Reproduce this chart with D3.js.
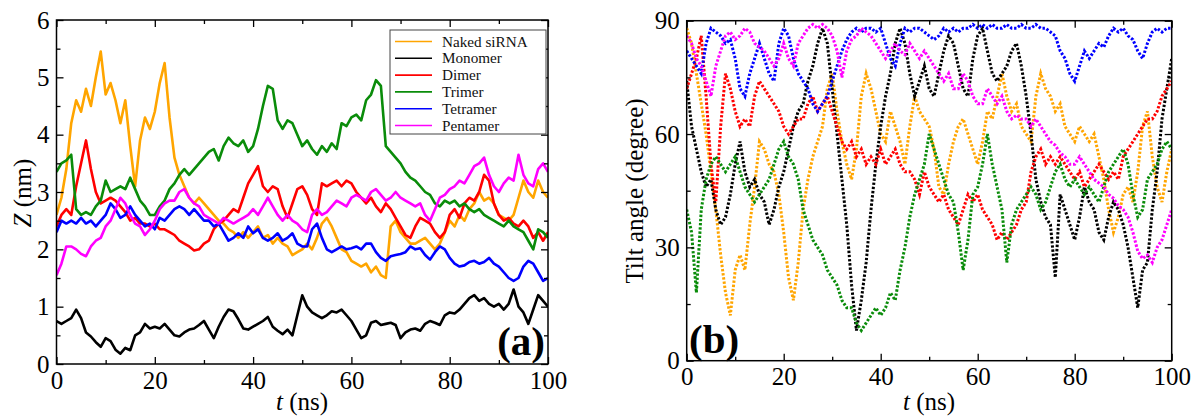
<!DOCTYPE html>
<html>
<head>
<meta charset="utf-8">
<script src="https://cdn.jsdelivr.net/npm/d3@7/dist/d3.min.js"></script>
<style>
    body { margin: 0; background: #fff; }
    svg { display: block; }
    .tick text { font-family: 'Liberation Serif', serif; font-size: 25px; fill: #000; }
    .tick line { stroke: #000; stroke-width: 1.3; }
    .axis-label { font-family: 'Liberation Serif', serif; font-size: 25px; fill: #000; }
    .legend text { font-family: 'Liberation Serif', serif; font-size: 15.2px; fill: #111; }
    .panel-tag { font-family: 'Liberation Serif', serif; font-size: 41px; font-weight: bold; fill: #000; }
</style>
</head>
<body>
<svg id="chart" width="1195" height="416"></svg>
<script>
'use strict';

// time axis, one reading per ns
const timeNs = d3.range(0, 101);

const seriesNames = ['Naked siRNA', 'Monomer', 'Dimer', 'Trimer', 'Tetramer', 'Pentamer'];
const seriesColors = ['#ffa500', '#000000', '#ff0000', '#0a8c0a', '#0000ff', '#ff00ff'];

// panel (a): Z (nm)
const zNaked = [
    2.6, 2.9, 3.4, 4.2, 4.6, 4.4, 4.8, 4.5, 5.0, 5.45,
    4.7, 4.9, 4.6, 4.2, 4.6, 3.8, 3.1, 3.9, 4.3, 4.1,
    4.4, 4.9, 5.25, 4.3, 3.6, 3.3, 3.1, 2.9, 2.8, 2.9,
    2.8, 2.7, 2.6, 2.5, 2.45, 2.35, 2.3, 2.2, 2.3, 2.2,
    2.3, 2.4, 2.2, 2.25, 2.1, 2.2, 2.1, 2.05, 1.9, 1.95,
    2.0, 2.1, 2.0, 2.2, 2.45, 2.55, 2.4, 2.2, 2.0, 1.95,
    1.8, 1.75, 1.7, 1.75, 1.6, 1.7, 1.55, 1.5, 2.4, 2.5,
    2.3, 2.2, 2.1, 2.1, 2.15, 2.2, 2.1, 2.0, 2.1, 2.3,
    2.5, 2.4, 2.6, 2.5, 2.7, 2.8, 3.0, 2.85, 2.9, 2.8,
    2.6, 2.55, 2.5, 2.6, 2.9, 3.2, 3.0, 2.9, 3.2, 3.0,
    2.9
];
const zMonomer = [
    0.75, 0.7, 0.75, 0.8, 0.95, 0.8, 0.55, 0.48, 0.38, 0.3,
    0.45, 0.4, 0.25, 0.18, 0.28, 0.24, 0.5, 0.55, 0.7, 0.62,
    0.65, 0.62, 0.7, 0.6, 0.5, 0.48, 0.55, 0.6, 0.62, 0.68,
    0.75, 0.6, 0.45, 0.65, 0.82, 0.95, 0.92, 0.78, 0.62, 0.6,
    0.65, 0.7, 0.75, 0.82, 0.65, 0.58, 0.52, 0.6, 0.5, 0.85,
    1.2, 1.0, 0.9, 0.85, 0.8, 0.85, 0.92, 0.9, 0.95, 0.85,
    0.75, 0.6, 0.45, 0.5, 0.72, 0.75, 0.68, 0.7, 0.72, 0.68,
    0.45, 0.55, 0.6, 0.62, 0.58, 0.7, 0.75, 0.72, 0.68, 0.85,
    0.9, 0.88, 0.95, 1.05, 1.15, 1.2, 1.1, 1.15, 1.05, 1.0,
    1.05, 0.95, 1.05, 1.3, 1.0, 0.9, 0.7, 0.95, 1.2, 1.1,
    1.0
];
const zDimer = [
    2.4, 2.6, 2.7, 2.6, 3.1, 3.5, 3.9, 3.4, 3.0, 2.8,
    2.85, 2.9, 2.85, 2.75, 2.65, 2.5, 2.55, 2.45, 2.45, 2.4,
    2.45, 2.35, 2.35, 2.3, 2.25, 2.15, 2.1, 2.05, 1.98, 2.0,
    2.1, 2.15, 2.35, 2.45, 2.5, 2.6, 2.7, 2.65, 2.9, 3.15,
    3.3, 3.45, 3.1, 3.0, 3.1, 3.05, 2.75, 2.55, 2.8, 3.05,
    3.1, 2.95, 2.7, 2.6, 3.15, 3.1, 3.15, 3.2, 3.1, 3.2,
    3.15, 3.0, 2.9, 2.8, 2.9, 2.75, 2.65, 2.8, 2.7, 2.55,
    2.4, 2.25, 2.2, 2.4, 2.55, 2.5, 2.45, 2.3, 2.2, 2.3,
    2.6, 2.7, 2.55, 2.8, 2.9, 2.85, 3.0, 3.3, 3.2, 2.8,
    2.6, 2.5, 2.55, 2.45, 2.4, 2.5, 2.4, 2.2, 2.3, 2.15,
    2.3
];
const zTrimer = [
    3.35, 3.5, 3.55, 3.65, 2.7, 2.6, 2.65, 2.6, 2.75, 2.85,
    3.2, 3.0, 3.05, 3.1, 3.05, 3.25, 3.05, 2.85, 2.75, 2.6,
    2.6, 2.75, 2.85, 3.05, 3.15, 3.3, 3.4, 3.3, 3.4, 3.5,
    3.6, 3.7, 3.75, 3.55, 3.8, 3.95, 3.85, 3.8, 3.9, 3.7,
    3.8, 4.1, 4.5, 4.85, 4.8, 4.25, 4.1, 4.25, 4.2, 4.0,
    3.8, 3.9, 3.75, 3.65, 3.8, 3.7, 3.85, 3.75, 4.2, 4.15,
    4.3, 4.35, 4.25, 4.6, 4.7, 4.95, 4.85, 3.8, 3.7, 3.6,
    3.5, 3.35, 3.25, 3.2, 3.1, 3.0, 2.95, 2.8, 2.75, 2.85,
    2.8, 2.85, 2.75, 2.8, 2.7, 2.65, 2.7, 2.6, 2.55, 2.5,
    2.45, 2.4, 2.5, 2.4, 2.35, 2.3, 2.15, 2.0, 2.35, 2.3,
    2.2
];
const zTetramer = [
    2.3, 2.5, 2.45, 2.5, 2.45, 2.55, 2.45, 2.5, 2.4, 2.5,
    2.6, 2.8, 2.7, 2.55, 2.6, 2.75, 2.6, 2.5, 2.4, 2.45,
    2.35, 2.55, 2.5, 2.6, 2.7, 2.75, 2.7, 2.6, 2.7, 2.6,
    2.5, 2.5, 2.4, 2.45, 2.3, 2.15, 2.2, 2.28, 2.2, 2.4,
    2.28, 2.35, 2.2, 2.15, 2.2, 2.28, 2.15, 2.2, 2.28, 2.1,
    2.05, 2.05, 2.35, 2.45, 2.2, 2.0, 1.95, 2.0, 2.05, 2.0,
    2.02, 2.05, 2.0, 2.1, 2.1, 1.95, 1.85, 1.8, 1.88, 1.9,
    1.92, 1.95, 2.05, 2.0, 2.02, 1.9, 1.82, 1.95, 2.05, 2.0,
    1.85, 1.75, 1.7, 1.72, 1.78, 1.8, 1.75, 1.78, 1.85, 1.75,
    1.7, 1.6, 1.5, 1.45, 1.5, 1.7, 1.8, 1.75, 1.6, 1.45,
    1.5
];
const zPentamer = [
    1.55, 1.75, 2.05, 2.05, 2.0, 1.92, 1.88, 2.05, 2.15, 2.2,
    2.4, 2.5, 2.7, 2.9, 2.8, 2.6, 2.45, 2.4, 2.25, 2.35,
    2.5, 2.7, 2.8, 2.85, 2.85, 3.0, 3.05, 2.9, 2.8, 2.75,
    2.6, 2.55, 2.5, 2.45, 2.55, 2.5, 2.45, 2.5, 2.55, 2.6,
    2.7, 2.6, 2.75, 2.9, 2.75, 2.6, 2.5, 2.6, 2.5, 2.45,
    2.35, 2.3, 2.6, 2.7, 2.6, 2.65, 2.75, 2.85, 2.8, 2.75,
    2.9, 2.95, 2.9, 2.85, 3.0, 3.05, 2.95, 2.85, 2.9, 3.0,
    2.9, 2.85, 2.8, 2.75, 2.8, 2.6, 2.5, 2.7, 2.9, 2.95,
    3.05, 3.1, 3.2, 3.15, 3.3, 3.45, 3.5, 3.6, 3.3, 3.1,
    3.0, 3.15, 3.25, 3.2, 3.65, 3.3, 3.15, 3.1, 3.4, 3.5,
    3.35
];

// panel (b): tilt angle (degree)
const tiltNaked = [
    88, 84, 76, 68, 60, 50, 40, 28, 18, 12,
    24, 28, 24, 36, 46, 58, 56, 52, 50, 44,
    34, 22, 16, 26, 40, 48, 54, 58, 62, 72,
    76, 66, 58, 52, 48, 56, 70, 76, 72, 66,
    60, 58, 66, 62, 58, 52, 62, 70, 66, 64,
    62, 56, 46, 44, 52, 58, 62, 64, 60, 56,
    52, 58, 66, 64, 70, 76, 70, 66, 68, 62,
    60, 58, 70, 76, 72, 70, 66, 68, 62, 60,
    58, 62, 60, 58, 60, 54, 48, 40, 34, 38,
    44, 46, 42, 50, 62, 66, 54, 46, 42, 50,
    56
];
const tiltMonomer = [
    74, 62, 56, 50, 46, 48, 40, 36, 38, 44,
    52, 58, 50, 46, 48, 44, 42, 36, 40, 46,
    50, 56, 62, 66, 68, 74, 78, 84, 88, 84,
    72, 60, 48, 36, 20, 8, 16, 26, 40, 52,
    62, 70, 76, 84, 88, 84, 76, 70, 74, 78,
    72, 70, 76, 82, 86, 84, 78, 72, 70, 80,
    86, 88, 82, 76, 74, 76, 78, 82, 84, 78,
    70, 60, 48, 42, 38, 36, 22, 44, 40, 36,
    32, 38, 46, 42, 40, 34, 32, 38, 42, 40,
    36, 30, 22, 14, 24, 26, 40, 50, 64, 72,
    80
];
const tiltDimer = [
    72, 76, 80, 86, 70, 52, 42, 62, 76, 72,
    66, 62, 64, 62, 70, 74, 72, 70, 68, 66,
    62, 60, 62, 64, 64, 68, 70, 66, 68, 70,
    66, 62, 58, 56, 58, 54, 56, 52, 54, 52,
    56, 52, 54, 56, 52, 50, 50, 48, 44, 50,
    46, 44, 42, 44, 40, 38, 36, 40, 44, 42,
    44, 40, 38, 36, 32, 34, 32, 34, 36, 40,
    42, 50, 54, 56, 52, 54, 52, 54, 52, 50,
    48, 50, 46, 48, 50, 52, 50, 48, 50, 48,
    54, 56, 58, 60, 62, 64, 64, 66, 70, 72,
    74
];
const tiltTrimer = [
    40, 34, 18, 40, 48, 52, 54, 52, 50, 52,
    54, 50, 46, 44, 42, 44, 46, 48, 52, 56,
    58, 54, 52, 48, 40, 36, 32, 30, 28, 24,
    22, 20, 16, 14, 14, 10, 8, 10, 12, 14,
    12, 14, 18, 16, 24, 30, 38, 44, 48, 52,
    60, 56, 52, 48, 44, 42, 34, 24, 32, 44,
    46, 52, 60, 52, 46, 40, 26, 36, 40, 42,
    44, 46, 44, 40, 42, 46, 50, 52, 48, 46,
    48, 46, 44, 46, 44, 42, 46, 50, 52, 54,
    56, 52, 44, 38, 40, 48, 50, 52, 56, 58,
    56
];
const tiltTetramer = [
    82, 80, 78, 76, 84, 88, 87, 86, 84, 85,
    80, 72, 70, 76, 80, 84, 80, 76, 74, 84,
    88, 86, 80, 76, 74, 72, 68, 66, 68, 70,
    74, 78, 82, 85, 87, 88, 87, 88, 88, 87,
    88, 84, 80, 78, 84, 88, 87, 88, 88, 87,
    86, 85, 86, 88, 87, 88, 87, 88, 88, 89,
    88, 89, 88, 89, 88, 88, 89, 88, 88, 89,
    88, 88, 89, 88, 88, 87, 86, 82, 80, 76,
    74, 78, 82, 80, 82, 84, 83, 86, 88, 87,
    88, 86, 85, 82, 80, 84, 87, 88, 87, 88,
    88
];
const tiltPentamer = [
    86, 84, 80, 78, 74, 70, 78, 82, 86, 87,
    85, 86, 88, 87, 84, 83, 82, 80, 78, 80,
    84, 80, 78, 84, 86, 88, 89, 88, 89, 88,
    86, 82, 75, 82, 85, 86, 88, 87, 86, 84,
    82, 80, 82, 84, 82, 81, 84, 82, 80, 82,
    80, 78, 76, 74, 76, 72, 72, 76, 74, 70,
    68, 68, 72, 70, 68, 70, 66, 64, 65, 64,
    64, 62, 64, 62, 60, 58, 57, 55, 54, 52,
    52, 54, 52, 50, 48, 47, 46, 44, 43, 41,
    40, 38, 34, 29, 27, 28, 26, 30, 32, 36,
    40
];

const zSeries = [zNaked, zMonomer, zDimer, zTrimer, zTetramer, zPentamer];
const tiltSeries = [tiltNaked, tiltMonomer, tiltDimer, tiltTrimer, tiltTetramer, tiltPentamer];

const svg = d3.select('#chart');

drawPanel({
    box: { left: 56.5, right: 548, top: 20, bottom: 364 },
    yDomain: [0, 6],
    yMajor: d3.range(0, 6.01, 1),
    yMinor: d3.range(0.5, 6, 1),
    series: zSeries,
    dotted: false,
    id: 'a'
});

drawPanel({
    box: { left: 686.7, right: 1171.7, top: 20.7, bottom: 360.7 },
    yDomain: [0, 90],
    yMajor: [0, 30, 60, 90],
    yMinor: [15, 45, 75],
    series: tiltSeries,
    dotted: true,
    id: 'b'
});

drawLegend();
drawLabels();

function drawPanel(opts) {
    const b = opts.box;
    const x = d3.scaleLinear().domain([0, 100]).range([b.left, b.right]);
    const y = d3.scaleLinear().domain(opts.yDomain).range([b.bottom, b.top]);

    svg.append('clipPath')
        .attr('id', 'clip-' + opts.id)
        .append('rect')
        .attr('x', b.left)
        .attr('y', b.top)
        .attr('width', b.right - b.left)
        .attr('height', b.bottom - b.top);

    const line = d3.line()
        .x((d, i) => x(timeNs[i]))
        .y(d => y(d));

    const plot = svg.append('g').attr('clip-path', `url(#clip-${opts.id})`);

    opts.series.forEach((values, i) => {
        const path = plot.append('path')
            .datum(values)
            .attr('d', line)
            .attr('fill', 'none')
            .attr('stroke', seriesColors[i]);

        if (opts.dotted) {
            path.attr('stroke-width', 3)
                .attr('stroke-dasharray', '2.4,1.8');
        } else {
            path.attr('stroke-width', 2.6)
                .attr('stroke-linejoin', 'round');
        }
    });

    const xMajor = d3.range(0, 101, 20);
    const xMinor = d3.range(10, 100, 20);

    // labelled axes, ticks pointing inward
    svg.append('g')
        .attr('transform', `translate(0,${b.bottom})`)
        .call(d3.axisBottom(x).tickValues(xMajor).tickFormat(d3.format('d')).tickSize(-7).tickPadding(7));
    svg.append('g')
        .attr('transform', `translate(${b.left},0)`)
        .call(d3.axisLeft(y).tickValues(opts.yMajor).tickFormat(d3.format('d')).tickSize(-7).tickPadding(7));

    // minor ticks and mirrored ticks on top and right
    addTicks(d3.axisBottom(x).tickValues(xMinor), b.bottom, true, 4);
    addTicks(d3.axisTop(x).tickValues(xMajor), b.top, true, 7);
    addTicks(d3.axisTop(x).tickValues(xMinor), b.top, true, 4);
    addTicks(d3.axisLeft(y).tickValues(opts.yMinor), b.left, false, 4);
    addTicks(d3.axisRight(y).tickValues(opts.yMajor), b.right, false, 7);
    addTicks(d3.axisRight(y).tickValues(opts.yMinor), b.right, false, 4);

    svg.selectAll('.domain').remove();

    svg.append('rect')
        .attr('x', b.left)
        .attr('y', b.top)
        .attr('width', b.right - b.left)
        .attr('height', b.bottom - b.top)
        .attr('fill', 'none')
        .attr('stroke', '#000')
        .attr('stroke-width', 1.5);
}

function addTicks(axis, pos, horizontal, size) {
    svg.append('g')
        .attr('transform', horizontal ? `translate(0,${pos})` : `translate(${pos},0)`)
        .call(axis.tickFormat('').tickSize(-size));
}

function drawLegend() {
    const legend = svg.append('g').attr('class', 'legend');

    legend.append('rect')
        .attr('x', 390)
        .attr('y', 30)
        .attr('width', 156)
        .attr('height', 104)
        .attr('fill', '#fff')
        .attr('stroke', '#444')
        .attr('stroke-width', 1);

    seriesNames.forEach((name, i) => {
        const rowY = 41.5 + i * 16.8;

        legend.append('line')
            .attr('x1', 395)
            .attr('x2', 432)
            .attr('y1', rowY)
            .attr('y2', rowY)
            .attr('stroke', seriesColors[i])
            .attr('stroke-width', 1.6);

        legend.append('text')
            .attr('x', 442)
            .attr('y', rowY + 5)
            .text(name);
    });
}

function drawLabels() {
    const zLabel = svg.append('text')
        .attr('class', 'axis-label')
        .attr('text-anchor', 'middle')
        .attr('transform', 'translate(31,193) rotate(-90)');
    zLabel.append('tspan').attr('font-style', 'italic').text('Z');
    zLabel.append('tspan').text(' (nm)');

    svg.append('text')
        .attr('class', 'axis-label')
        .attr('text-anchor', 'middle')
        .attr('transform', 'translate(643,191) rotate(-90)')
        .text('Tilt angle (degree)');

    [302, 929].forEach(cx => {
        const tLabel = svg.append('text')
            .attr('class', 'axis-label')
            .attr('text-anchor', 'middle')
            .attr('x', cx)
            .attr('y', 410);
        tLabel.append('tspan').attr('font-style', 'italic').text('t');
        tLabel.append('tspan').text(' (ns)');
    });

    svg.append('text')
        .attr('class', 'panel-tag')
        .attr('text-anchor', 'end')
        .attr('x', 545)
        .attr('y', 355)
        .text('(a)');

    svg.append('text')
        .attr('class', 'panel-tag')
        .attr('x', 689)
        .attr('y', 353)
        .text('(b)');
}
</script>
</body>
</html>
